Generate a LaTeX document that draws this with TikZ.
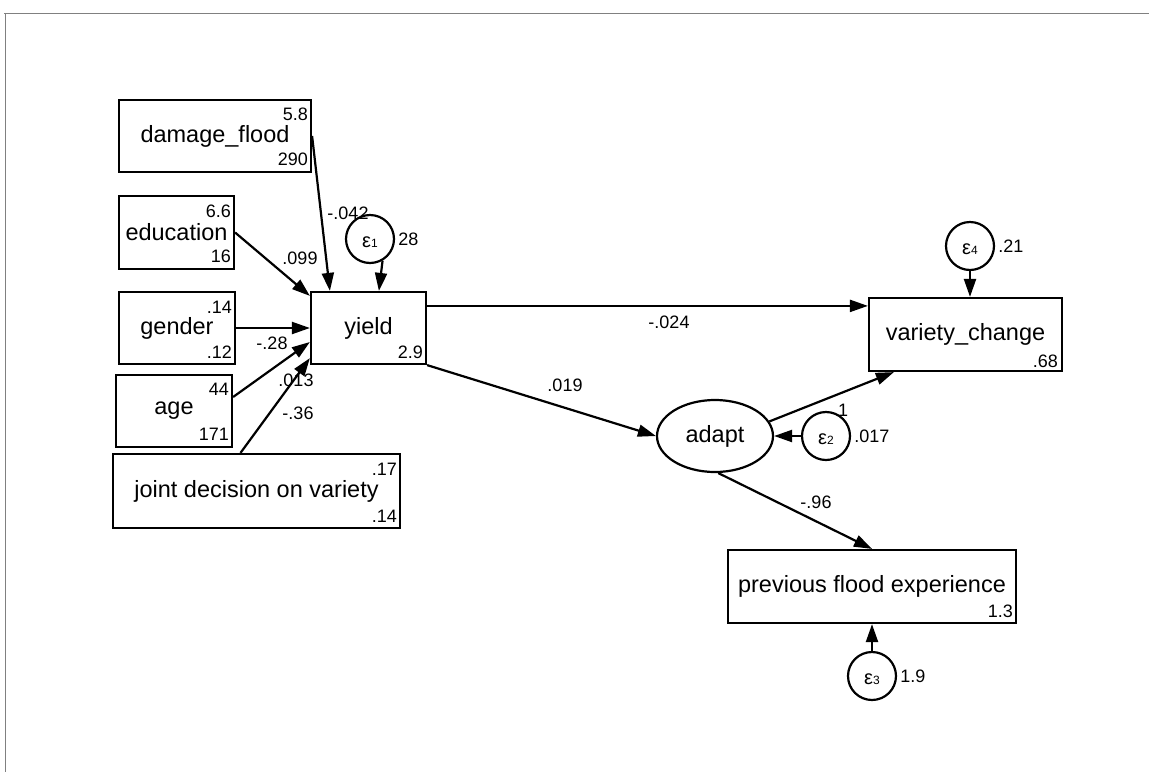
\documentclass[tikz,border=0pt]{standalone}
\usepackage{fontspec}
\setmainfont{Liberation Sans}
\usetikzlibrary{shapes.geometric,arrows.meta,calc}
\newcommand\errlab[1]{\raisebox{-3pt}[10pt][0pt]{{\fontsize{20}{20}\selectfont ε}{\fontsize{12}{12}\selectfont #1}}}
\begin{document}
\begin{tikzpicture}[x=1pt,y=-1pt,
 obs/.style={draw,line width=2.2pt,inner sep=0pt,font=\fontsize{23.5}{28}\selectfont},
 lat/.style={draw,ellipse,line width=2.2pt,minimum width=116pt,minimum height=72pt,inner sep=0pt,font=\fontsize{23.5}{28}\selectfont},
 err/.style={draw,circle,line width=2.2pt,minimum size=48pt,inner sep=0pt},
 num/.style={inner sep=0pt,font=\fontsize{18}{20}\selectfont},
 arr/.style={line width=2.2pt,-{Triangle[length=18pt,width=12pt]}},
 frame/.style={draw=gray,line width=1pt}]
\useasboundingbox (0,0) rectangle (1149,772);
\draw[frame] (4,13) -- (1149,13);
\draw[frame] (5,13) -- (5,772);

% observed boxes
\node[obs,minimum width=192pt,minimum height=72pt] (d) at (215,136) {damage\_flood};
\node[obs,minimum width=115pt,minimum height=73pt] (edu) at (176.5,232.5) {education};
\node[obs,minimum width=116pt,minimum height=72pt] (g) at (177,328) {gender};
\node[obs,minimum width=116pt,minimum height=72pt] (age) at (174,411) {age};
\node[obs,minimum width=287pt,minimum height=74pt] (j) at (256.5,491) {joint decision on variety};
\node[obs,minimum width=115pt,minimum height=72pt] (y) at (368.5,328) {yield};
\node[obs,minimum width=193pt,minimum height=73pt] (v) at (965.5,334.5) {variety\_change};
\node[obs,minimum width=288pt,minimum height=73pt] (p) at (872,586.5) {previous flood experience};
\node[lat] (a) at (715,436) {adapt};

% numbers in boxes
\node[num,anchor=east] at ($(d.north east)+(-4,15)$) {5.8};
\node[num,anchor=east] at ($(d.south east)+(-4,-14)$) {290};
\node[num,anchor=east] at ($(edu.north east)+(-4,16)$) {6.6};
\node[num,anchor=east] at ($(edu.south east)+(-4,-14)$) {16};
\node[num,anchor=east] at ($(g.north east)+(-4,16)$) {.14};
\node[num,anchor=east] at ($(g.south east)+(-4,-13)$) {.12};
\node[num,anchor=east] at ($(age.north east)+(-4,15)$) {44};
\node[num,anchor=east] at ($(age.south east)+(-4,-14)$) {171};
\node[num,anchor=east] at ($(j.north east)+(-4,16)$) {.17};
\node[num,anchor=east] at ($(j.south east)+(-4,-13)$) {.14};
\node[num,anchor=east] at ($(y.south east)+(-4,-13)$) {2.9};
\node[num,anchor=east] at ($(v.south east)+(-5,-11)$) {.68};
\node[num,anchor=east] at ($(p.south east)+(-4,-13)$) {1.3};

% error terms
\node[err,label={[num,label distance=3pt]east:28}] (e1) at (370,239) {\errlab{1}};
\node[err,label={[num,label distance=3pt]east:.017}] (e2) at (826,436) {\errlab{2}};
\node[err,label={[num,label distance=3pt]east:1.9}] (e3) at (872,676) {\errlab{3}};
\node[err,label={[num,label distance=3pt]east:.21}] (e4) at (970,246) {\errlab{4}};
\node[num] (one) at (843,410) {1};

% paths
\coordinate (ys) at ($(y.north east)+(0,15)$);
\draw[arr] (d.east) -- ($(y.north west)+(20,0)$);
\draw[arr] (edu.east) -- ($(y.north west)+(0,5)$);
\draw[arr] (g.east) -- (y.west);
\draw[arr] ($(age.east)+(0,-14)$) -- ($(y.west)+(0,14)$);
\draw[arr] ($(j.north)+(-16,0)$) -- ($(y.south west)+(0,-7)$);
\draw[arr] (e1.-60) -- ($(y.north west)+(69,0)$);
\draw[arr] (ys) -- (ys -| v.west);
\draw[arr] (y.south east) -- (a.west);
\draw[arr] (a.15) -- ($(v.south west)+(26,0)$);
\draw[arr] (e2.west) -- (a.east);
\draw[arr] (a.-85) -- (p.north);
\draw[arr] (e3.north) -- (p.south);
\draw[arr] (e4.south) -- (e4.south |- v.north);

% path labels
\node[num] at (348,213) {-.042};
\node[num] at (300,258) {.099};
\node[num] at (272,343) {-.28};
\node[num] at (296,380) {.013};
\node[num] at (298,413) {-.36};
\node[num] at (669,322) {-.024};
\node[num] at (565,385) {.019};
\node[num] at (816,502) {-.96};
\end{tikzpicture}
\end{document}
